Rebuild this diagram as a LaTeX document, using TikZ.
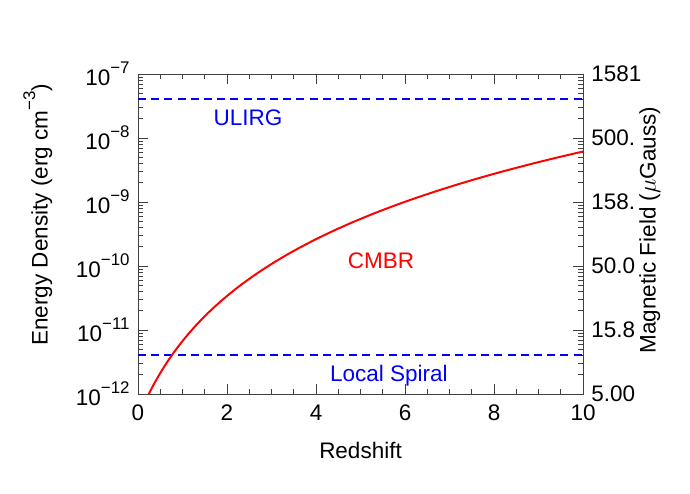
\documentclass[tikz,border=0pt]{standalone}
\usepackage{fontspec}
\setmainfont{Liberation Sans}
\usetikzlibrary{positioning}
\newcommand{\supr}[1]{\raisebox{0.55em}{\fontsize{12}{12}\selectfont #1}}

\begin{document}
\begin{tikzpicture}[
  x=1.1125cm, y=1.6cm,
  font=\fontsize{16}{18}\selectfont,
  frame/.style={draw=black!75, line width=0.6pt},
  tick/.style={draw=black!75, line width=0.5pt},
  curve/.style={red, line width=1.4pt},
  level/.style={blue, line width=1.4pt, dash pattern=on 0.2cm off 0.13cm},
  ticklabel/.style={inner sep=2pt},
  redlabel/.style={text=red},
  bluelabel/.style={text=blue}
]
\useasboundingbox (-3.101,-1.547) rectangle (12.404,6.156);

% Frame
\coordinate (ll) at (0,0);
\coordinate (ur) at (10,5);
\draw[frame] (ll) rectangle (ur);

% x ticks (bottom and top)
\foreach \t in {0.5,1,...,9.5} {
  \draw[tick] (\t,0) -- ++(0,0.078);
  \draw[tick] (\t,5) -- ++(0,-0.078);
}
\foreach \t in {2,4,6,8} {
  \draw[tick] (\t,0) -- ++(0,0.156);
  \draw[tick] (\t,5) -- ++(0,-0.156);
}
\foreach \t in {0,2,...,10}
  \node[ticklabel, anchor=north] (xl\t) at (\t,-0.12) {\t};

% y ticks (left and right)
\foreach \d in {0,...,4} {
  \foreach \k in {2,...,9} {
    \draw[tick] (0,{\d+log10(\k)}) -- ++(0.112,0);
    \draw[tick] (10,{\d+log10(\k)}) -- ++(-0.112,0);
  }
}
\foreach \d in {1,...,4} {
  \draw[tick] (0,\d) -- ++(0.225,0);
  \draw[tick] (10,\d) -- ++(-0.225,0);
}

% Left tick labels
\foreach \d/\e in {0/12,1/11,2/10,3/9,4/8,5/7}
  \node[ticklabel, anchor=east] (yl\d) at (-0.12,\d) {10\supr{−\e}};

% Right tick labels (magnetic field)
\foreach \d/\b in {0/5.00,1/15.8,2/50.0,3/158.,4/500.,5/1581}
  \node[ticklabel, anchor=west] (yr\d) at (10.12,\d) {\b};

% Axis titles
\node (xtitle) at (5,-0.875) {Redshift};
\node[rotate=90] (ytitle) at (-2.25,2.8) {Energy Density (erg cm\supr{−3})};
\node[rotate=90] (btitle) at (11.5,2.56) {Magnetic Field ($\mu$Gauss)};

% Levels
\coordinate (ulirgA) at (0,4.61);
\coordinate (ulirgB) at (10,4.61);
\draw[level] (ulirgA) -- (ulirgB);
\coordinate (spiralA) at (0,0.61);
\coordinate (spiralB) at (10,0.61);
\draw[level] (spiralA) -- (spiralB);

% CMBR curve
\draw[curve] plot[domain=0.243:10, samples=100, smooth] (\x,{4*log10(1+\x)-0.377});

% Labels
\node[bluelabel] (ulirg) at (2.47,4.31) {ULIRG};
\node[redlabel] (cmbr) at (5.46,2.08) {CMBR};
\node[bluelabel] (spiral) at (5.64,0.28) {Local Spiral};

\end{tikzpicture}
\end{document}
